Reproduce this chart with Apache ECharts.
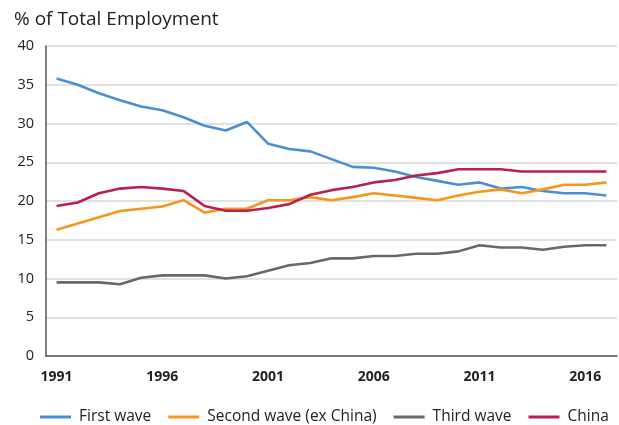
<!DOCTYPE html>
<html><head><meta charset="utf-8">
<script src="https://cdn.jsdelivr.net/npm/echarts@6/dist/echarts.min.js"></script>
<style>html,body{margin:0;padding:0;background:#fff}#c{width:619px;height:425px}</style>
</head><body><div id="c"></div>
<script>
const years = ['1991','1992','1993','1994','1995','1996','1997','1998','1999','2000','2001','2002','2003','2004','2005','2006','2007','2008','2009','2010','2011','2012','2013','2014','2015','2016','2017'];
const firstWave = [35.8,35.0,33.9,33.0,32.2,31.7,30.8,29.7,29.1,30.2,27.4,26.7,26.4,25.4,24.4,24.3,23.8,23.1,22.6,22.1,22.4,21.6,21.8,21.3,21.0,21.0,20.7];
const secondWave = [16.3,17.1,17.9,18.7,19.0,19.3,20.1,18.5,19.0,19.0,20.1,20.1,20.5,20.1,20.5,21.0,20.7,20.4,20.1,20.7,21.2,21.5,21.0,21.5,22.1,22.1,22.4];
const thirdWave = [9.5,9.5,9.5,9.25,10.1,10.4,10.4,10.4,10.0,10.3,11.0,11.7,12.0,12.6,12.6,12.9,12.9,13.2,13.2,13.5,14.3,14.0,14.0,13.7,14.1,14.3,14.3];
const china = [19.35,19.8,21.0,21.6,21.8,21.6,21.3,19.35,18.75,18.75,19.1,19.6,20.8,21.4,21.8,22.4,22.7,23.3,23.6,24.1,24.1,24.1,23.8,23.8,23.8,23.8,23.8];
const xLabels = ['1991','1996','2001','2006','2011','2016'];
const names = ['First wave','Second wave (ex China)','Third wave','China'];
const colors = ['#4a8fd1','#f7961d','#65696c','#b8214c'];
const datas = [firstWave, secondWave, thirdWave, china];
const font = '"Open Sans", "Noto Sans", sans-serif';
const chart = echarts.init(document.getElementById('c'));
chart.setOption({
  animation:false,
  title:{text:'% of Total Employment',left:9,top:5,textStyle:{fontFamily:font,fontSize:19,fontWeight:'normal',color:'#222'}},
  grid:{left:46,right:2,top:46,bottom:69,containLabel:false},
  legend:{top:409,left:40,itemWidth:31,itemHeight:3,itemGap:17,icon:'rect',padding:0,
    textStyle:{fontFamily:font,fontSize:15.5,color:'#222',padding:[0,0,0,3]},data:names},
  xAxis:{type:'category',data:years,boundaryGap:true,
    axisLine:{lineStyle:{color:'#555',width:1.5}},axisTick:{show:false},
    axisLabel:{interval:0,margin:14,fontFamily:font,fontSize:14,fontWeight:'bold',color:'#222',
      formatter:v=>xLabels.includes(v)?v:''}},
  yAxis:{type:'value',min:0,max:40,interval:5,
    axisLine:{show:true,lineStyle:{color:'#555',width:1.5}},axisTick:{show:false},
    axisLabel:{margin:12,fontFamily:font,fontSize:14.5,color:'#222'},
    splitLine:{lineStyle:{color:'#d9d9d9',width:1.5}}},
  series:names.map((n,i)=>({name:n,type:'line',data:datas[i],symbol:'none',
    lineStyle:{color:colors[i],width:2.6},itemStyle:{color:colors[i]}}))
});
</script></body></html>
